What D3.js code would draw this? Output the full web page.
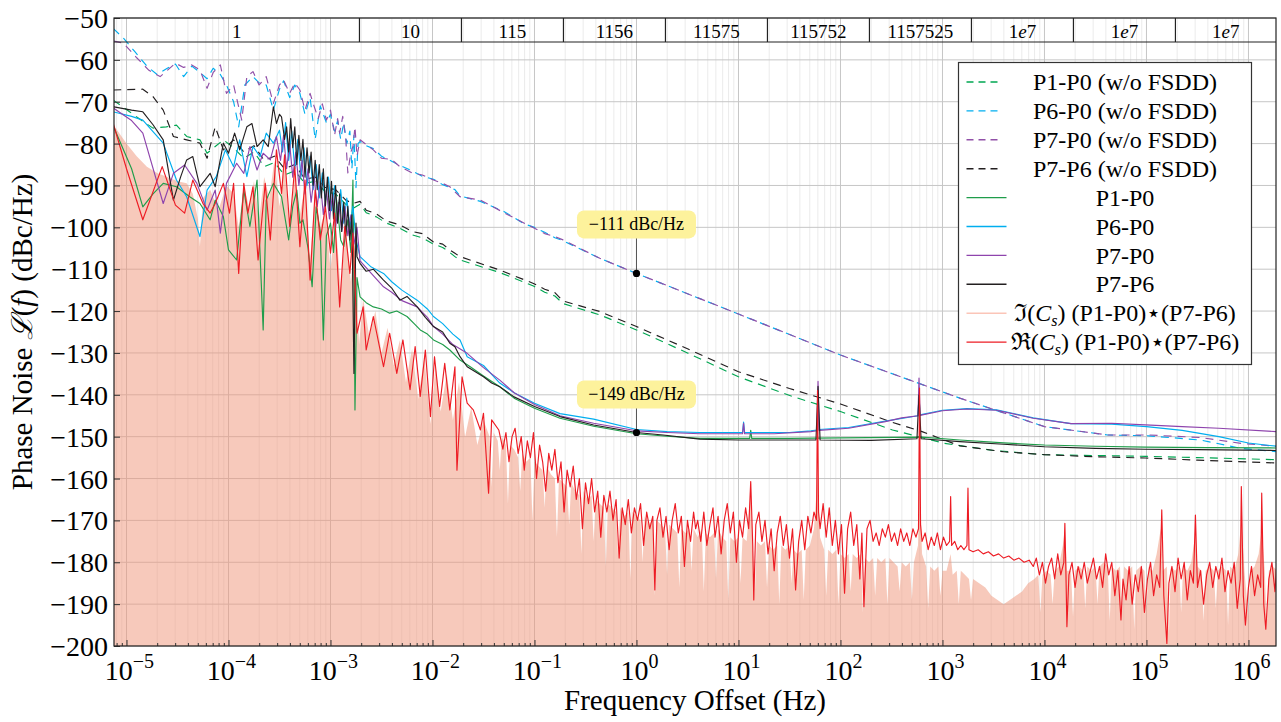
<!DOCTYPE html>
<html>
<head>
<meta charset="utf-8">
<script src="https://cdn.jsdelivr.net/npm/d3@7"></script>
<style>
  body { margin: 0; background: #fff; }
  svg { font-family: "Liberation Serif", "DejaVu Serif", serif; }
</style>
</head>
<body>
<script>
// points are [log10(frequency offset in Hz), phase noise in dBc/Hz]

var p1p0Nofsdd = [[-5.13,-69.6],[-4.97,-72.4],[-4.85,-74.5],[-4.74,-76.3],[-4.61,-76.0],[-4.51,-75.6],[-4.41,-78.3],[-4.28,-79.1],[-4.21,-82.3],[-4.13,-80.7],[-4.05,-79.1],[-3.95,-81],[-3.85,-83.5],[-3.75,-82],[-3.65,-85.5],[-3.55,-84.5],[-3.45,-87.5],[-3.35,-86.5],[-3.25,-89.5],[-3.15,-89],[-3.05,-91.5],[-2.95,-92],[-2.85,-94.5],[-2.78,-95.5],[-2.71,-94.5],[-2.65,-96.5],[-2.55,-97.5],[-2.45,-99],[-2.32,-100.2],[-2.2,-101.8],[-2.1,-102.5],[-1.99,-104],[-1.9,-104.8],[-1.83,-106],[-1.78,-107],[-1.73,-107.8],[-1.34,-110.8],[-1.01,-114],[-0.9,-115.5],[-0.8,-116.4],[-0.72,-118.2],[-0.36,-120.9],[0,-124.5],[0.5,-130],[1,-135.7],[1.53,-140.4],[2,-144.0],[2.51,-148.4],[3.02,-151.6],[3.5,-153.3],[4.0,-154.3],[4.99,-154.7],[5.5,-155],[6.28,-155.5]];

var p6p0Nofsdd = [[-5.13,-52.5],[-5.03,-54.8],[-4.92,-58],[-4.8,-61.5],[-4.7,-63.5],[-4.6,-62],[-4.52,-61],[-4.44,-64],[-4.36,-61.5],[-4.28,-63],[-4.21,-64.5],[-4.15,-62],[-4.08,-63.5],[-4.02,-66],[-3.95,-70],[-3.9,-76],[-3.84,-66],[-3.76,-64],[-3.7,-65.5],[-3.63,-66],[-3.56,-72],[-3.5,-67],[-3.46,-65],[-3.4,-69],[-3.35,-66],[-3.3,-68],[-3.25,-73],[-3.2,-69],[-3.15,-79],[-3.1,-71],[-3.04,-75],[-3.0,-73],[-2.96,-77],[-2.93,-74.5],[-2.9,-79],[-2.87,-75],[-2.84,-80],[-2.81,-77],[-2.79,-86],[-2.77,-78],[-2.75,-90.5],[-2.73,-80],[-2.71,-79.5],[-2.65,-80.5],[-2.58,-81.2],[-2.5,-83],[-2.4,-84.2],[-2.32,-85.2],[-2.2,-86.5],[-2.1,-87.8],[-1.99,-88.5],[-1.9,-89.8],[-1.83,-90.5],[-1.78,-91],[-1.73,-92.5],[-1.53,-93.8],[-1.3,-96.2],[-1.1,-99.2],[-1.0,-100],[-0.9,-101.2],[-0.8,-102.5],[-0.72,-103.2],[-0.36,-107.4],[0,-111],[1,-120.7],[2,-130.5],[3.17,-140.8],[4.0,-147.6],[4.62,-149.6],[5.02,-149.8],[5.53,-150.8],[5.93,-152.8],[6.28,-153.6]];

var p7p0Nofsdd = [[-5.13,-55.5],[-5.03,-56.0],[-4.9,-59.5],[-4.78,-62.5],[-4.67,-64.0],[-4.6,-62.5],[-4.52,-60.8],[-4.44,-61.8],[-4.36,-61.2],[-4.28,-62.4],[-4.21,-66.8],[-4.15,-63],[-4.08,-61.2],[-4.02,-68.0],[-3.95,-66],[-3.87,-74.4],[-3.82,-64.0],[-3.76,-62.8],[-3.7,-66],[-3.63,-64.0],[-3.56,-70.4],[-3.5,-66],[-3.46,-64.8],[-3.4,-68],[-3.35,-65.5],[-3.3,-67.2],[-3.25,-72],[-3.2,-68],[-3.17,-70.4],[-3.12,-74],[-3.08,-70.5],[-3.04,-74.4],[-3.0,-72],[-2.96,-78],[-2.93,-74],[-2.91,-77.5],[-2.88,-73.5],[-2.85,-79],[-2.83,-87],[-2.8,-82],[-2.78,-80.7],[-2.76,-76],[-2.74,-83],[-2.71,-79.1],[-2.65,-80.2],[-2.58,-81.5],[-2.5,-83.5],[-2.4,-83.8],[-2.32,-85.5],[-2.2,-87],[-2.1,-87.5],[-1.99,-88.7],[-1.9,-89.5],[-1.83,-90.3],[-1.78,-91.5],[-1.73,-92.7],[-1.53,-93.5],[-1.3,-96.5],[-1.1,-99],[-1.0,-100.2],[-0.9,-101.5],[-0.8,-102.2],[-0.72,-103.0],[-0.36,-107.4],[0,-111],[1,-120.7],[2,-130.5],[3.17,-140.8],[4.0,-147.6],[4.62,-149.6],[5.02,-149.6],[5.53,-150.2],[5.93,-151.6],[6.28,-152.3]];

var p7p6Nofsdd = [[-5.13,-67.2],[-4.84,-67.0],[-4.74,-68.8],[-4.64,-72.0],[-4.54,-78.3],[-4.41,-79.1],[-4.28,-79.9],[-4.21,-83.5],[-4.13,-76.0],[-4.05,-81.5],[-3.95,-79.1],[-3.85,-82],[-3.75,-80.5],[-3.65,-84],[-3.55,-83],[-3.45,-86],[-3.35,-85],[-3.25,-88.5],[-3.15,-88],[-3.05,-90.5],[-2.95,-91],[-2.85,-93.5],[-2.78,-94.3],[-2.71,-93.8],[-2.65,-95.9],[-2.55,-96.8],[-2.45,-98.5],[-2.32,-99.4],[-2.2,-101],[-2.1,-101.5],[-1.99,-103.5],[-1.9,-104],[-1.83,-105.4],[-1.78,-106.2],[-1.73,-107],[-1.34,-110.2],[-1.01,-113.4],[-0.9,-114.8],[-0.8,-115.6],[-0.72,-117.6],[-0.36,-120.1],[0,-123.7],[0.5,-129],[1,-134.5],[1.5,-138.5],[2,-142.2],[2.5,-146.5],[2.8,-148.8],[3.17,-152.2],[3.6,-153.6],[4.0,-154.3],[4.5,-154.8],[4.99,-155.1],[5.5,-155.6],[6.28,-156.3]];

var p1p0 = [[-5.13,-75.8],[-4.95,-86],[-4.84,-95.1],[-4.74,-92],[-4.64,-89.5],[-4.51,-90.3],[-4.38,-92.7],[-4.28,-94.3],[-4.18,-98.2],[-4.13,-93.5],[-4.05,-97.5],[-4.0,-105.4],[-3.92,-107.8],[-3.85,-91.1],[-3.79,-99.8],[-3.72,-88.7],[-3.66,-124.5],[-3.63,-93.5],[-3.56,-89.5],[-3.48,-92.7],[-3.41,-103],[-3.37,-95],[-3.33,-91.1],[-3.3,-99],[-3.27,-98.2],[-3.22,-105],[-3.18,-114.2],[-3.14,-95.1],[-3.1,-101],[-3.07,-126.9],[-3.04,-102],[-3.0,-99.0],[-2.97,-106],[-2.94,-93.5],[-2.9,-103],[-2.87,-104.6],[-2.83,-98.2],[-2.8,-106],[-2.78,-88.7],[-2.77,-110],[-2.76,-143.6],[-2.74,-112],[-2.71,-116.6],[-2.65,-118],[-2.58,-119],[-2.5,-119.5],[-2.42,-120.5],[-2.35,-120],[-2.25,-121.3],[-2.18,-123],[-2.12,-124.5],[-2.05,-125.5],[-1.99,-126.9],[-1.9,-128],[-1.83,-129.3],[-1.73,-131.7],[-1.63,-133.3],[-1.5,-135.5],[-1.34,-138.1],[-1.2,-140.8],[-1.0,-143.2],[-0.75,-145.6],[-0.42,-147.5],[0,-149.3],[0.3,-149.9],[0.62,-150.4],[1.0,-150.4],[1.11,-150.4],[1.12,-148.5],[1.13,-150.4],[1.5,-150.4],[2.0,-150.3],[2.8,-150.1],[3.17,-150.8],[3.6,-151.5],[4.0,-152],[4.5,-152.3],[4.99,-152.5],[5.6,-152.6],[6.28,-152.7]];

var p6p0 = [[-5.13,-72.4],[-4.95,-73.5],[-4.84,-74.4],[-4.64,-79.9],[-4.51,-88.7],[-4.41,-92.7],[-4.28,-102.2],[-4.21,-91.1],[-4.12,-87.9],[-4.03,-81.5],[-3.95,-85.5],[-3.89,-79.1],[-3.82,-87.9],[-3.76,-80.7],[-3.69,-83.1],[-3.63,-77.5],[-3.56,-79.9],[-3.5,-76.8],[-3.47,-82],[-3.44,-75],[-3.41,-84],[-3.38,-77],[-3.35,-86],[-3.32,-79],[-3.29,-88],[-3.26,-81],[-3.23,-90],[-3.2,-83],[-3.17,-91],[-3.14,-85],[-3.11,-93],[-3.08,-87],[-3.05,-94],[-3.02,-88],[-2.99,-96],[-2.96,-90],[-2.93,-97],[-2.9,-91],[-2.87,-99],[-2.84,-93],[-2.81,-100],[-2.78,-95],[-2.75,-103],[-2.71,-107],[-2.6,-109.5],[-2.48,-111],[-2.4,-113],[-2.3,-115],[-2.15,-117.4],[-2.05,-119.5],[-1.99,-121.3],[-1.9,-123],[-1.8,-125.5],[-1.73,-126.9],[-1.66,-130.9],[-1.5,-133],[-1.34,-137.2],[-1.2,-139.5],[-1.0,-142],[-0.75,-144.5],[-0.42,-145.8],[0,-148.3],[0.3,-148.8],[0.62,-149],[1.0,-149],[1.04,-149],[1.05,-146.5],[1.06,-149],[1.5,-149],[1.71,-148.6],[1.77,-148.4],[1.78,-141],[1.79,-148.3],[2.08,-147.8],[2.44,-146.3],[2.76,-145],[2.77,-140],[2.78,-144.8],[3.0,-143.7],[3.24,-143.3],[3.53,-143.6],[3.89,-145.5],[4.26,-146.9],[4.66,-147],[5.0,-147.6],[5.35,-148.5],[5.71,-150],[6.0,-151.5],[6.28,-152.3]];

var p7p0 = [[-5.13,-71.5],[-4.95,-74.5],[-4.84,-77.5],[-4.64,-94.3],[-4.54,-87.1],[-4.43,-85.1],[-4.31,-89.5],[-4.21,-95.9],[-4.13,-91.1],[-4.08,-101.4],[-4.02,-89.5],[-3.92,-84.7],[-3.85,-87.1],[-3.79,-80.7],[-3.72,-86.3],[-3.66,-82.3],[-3.59,-83.9],[-3.53,-78.3],[-3.49,-84],[-3.46,-78],[-3.43,-86],[-3.4,-80],[-3.37,-88],[-3.34,-82],[-3.31,-90],[-3.28,-84],[-3.25,-92],[-3.22,-86],[-3.19,-94],[-3.16,-88],[-3.13,-95],[-3.1,-89],[-3.07,-97],[-3.04,-91],[-3.01,-98],[-2.98,-92],[-2.95,-100],[-2.92,-94],[-2.89,-101],[-2.86,-95],[-2.83,-102],[-2.8,-97],[-2.77,-104],[-2.74,-100],[-2.71,-108],[-2.6,-111],[-2.48,-114.2],[-2.4,-115.5],[-2.3,-117.5],[-2.15,-119],[-2.05,-121.5],[-1.99,-123.7],[-1.9,-125.5],[-1.8,-128],[-1.66,-130.1],[-1.5,-133.5],[-1.34,-136.5],[-1.2,-139.5],[-1.0,-142.3],[-0.75,-145],[-0.42,-146.8],[0,-148.6],[0.3,-149],[0.62,-149.3],[1.0,-149.3],[1.04,-149.3],[1.05,-146.8],[1.06,-149.3],[1.35,-149.3],[1.71,-148.8],[1.77,-148.6],[1.78,-136.8],[1.79,-148.5],[2.08,-148],[2.44,-146.4],[2.6,-145.5],[2.76,-145],[2.77,-136],[2.78,-144.9],[3.0,-143.8],[3.24,-143.4],[3.53,-143.7],[3.89,-145.6],[4.26,-146.9],[4.66,-146.8],[4.99,-147.2],[5.35,-147.6],[5.71,-148],[6.28,-148.8]];

var p7p6 = [[-5.13,-71.2],[-4.95,-72],[-4.84,-72.4],[-4.74,-75.5],[-4.64,-79.1],[-4.54,-93.5],[-4.47,-88],[-4.41,-83.9],[-4.35,-83.1],[-4.28,-90.3],[-4.18,-87.1],[-4.13,-90.3],[-4.05,-79.9],[-4.0,-82.3],[-3.94,-77.5],[-3.89,-81.5],[-3.82,-76.0],[-3.77,-75.2],[-3.72,-80.7],[-3.66,-79.1],[-3.61,-80.7],[-3.56,-71.2],[-3.53,-75.2],[-3.5,-73],[-3.48,-73.6],[-3.45,-79],[-3.43,-76.0],[-3.41,-82],[-3.39,-74],[-3.37,-81],[-3.35,-76],[-3.33,-85],[-3.31,-78],[-3.29,-84],[-3.27,-79],[-3.25,-88],[-3.23,-81],[-3.21,-87],[-3.19,-82],[-3.17,-90],[-3.15,-84],[-3.13,-91],[-3.11,-85],[-3.09,-93],[-3.07,-86],[-3.05,-95],[-3.03,-88],[-3.01,-96],[-2.99,-89],[-2.97,-98],[-2.95,-90],[-2.93,-99],[-2.91,-92],[-2.89,-101],[-2.87,-94],[-2.85,-102],[-2.83,-95],[-2.81,-103],[-2.79,-97],[-2.77,-134.9],[-2.75,-99],[-2.74,-107],[-2.71,-108.6],[-2.65,-110.5],[-2.58,-110],[-2.48,-112.6],[-2.4,-114.5],[-2.32,-117.4],[-2.25,-116.5],[-2.15,-119],[-2.07,-121.5],[-1.99,-123.7],[-1.9,-125],[-1.83,-127.7],[-1.78,-128.5],[-1.73,-130.9],[-1.66,-133.3],[-1.58,-134.5],[-1.5,-135.7],[-1.42,-137.2],[-1.34,-138.1],[-1.2,-140.5],[-1.0,-142.8],[-0.75,-145.2],[-0.42,-147.2],[0,-149],[0.26,-149.6],[0.62,-150.6],[1.0,-150.8],[1.5,-150.8],[1.76,-150.8],[1.78,-138],[1.8,-150.8],[2.3,-150.9],[2.75,-150.5],[2.77,-140],[2.79,-150.5],[3.17,-151.2],[3.6,-151.8],[4.0,-152.4],[4.5,-152.8],[4.99,-153.0],[5.5,-153.1],[6.28,-153.3]];

var crossIm = [[-5.13,-75.5],[-5.0,-80],[-4.9,-83],[-4.8,-85.5],[-4.7,-87],[-4.6,-88],[-4.5,-89],[-4.41,-89.5],[-4.35,-92],[-4.3,-98],[-4.28,-104.6],[-4.25,-93],[-4.18,-91],[-4.1,-96],[-4.02,-90],[-3.95,-92],[-3.9,-100],[-3.85,-90],[-3.8,-95],[-3.75,-89],[-3.7,-98],[-3.65,-88],[-3.6,-93],[-3.55,-84],[-3.5,-95],[-3.45,-85],[-3.4,-101],[-3.35,-87],[-3.3,-97],[-3.25,-90],[-3.2,-108],[-3.15,-92],[-3.1,-100],[-3.05,-96],[-3.0,-110],[-2.95,-98],[-2.9,-115],[-2.85,-100],[-2.8,-113],[-2.76,-103],[-2.72,-128],[-2.68,-117],[-2.62,-126],[-2.56,-120],[-2.5,-130],[-2.44,-124],[-2.38,-133],[-2.32,-127],[-2.26,-137],[-2.2,-129],[-2.14,-141],[-2.08,-131],[-2.02,-147],[-1.97,-133],[-1.92,-144],[-1.86,-135],[-1.8,-146],[-1.74,-137],[-1.68,-150],[-1.62,-143],[-1.56,-152],[-1.5,-146],
  [-1.44,-150],[-1.42,-162],[-1.4,-149],[-1.36,-151],[-1.34,-158],[-1.32,-150],[-1.28,-152],[-1.26,-166],[-1.24,-152],[-1.2,-153],[-1.16,-155],[-1.14,-163],[-1.12,-154],[-1.08,-156],[-1.04,-155],[-1.02,-170],[-1.0,-156],[-0.96,-157],[-0.92,-158],[-0.9,-167],[-0.88,-157],[-0.84,-159],[-0.8,-160],[-0.78,-174],[-0.76,-160],[-0.72,-161],[-0.68,-162],[-0.66,-171],[-0.64,-161],[-0.6,-163],[-0.56,-164],[-0.54,-178],[-0.52,-163],[-0.48,-165],[-0.44,-164],[-0.42,-175],[-0.4,-165],[-0.36,-166],[-0.32,-167],[-0.3,-181],[-0.28,-166],[-0.24,-167],[-0.2,-168],[-0.18,-179],[-0.16,-167],[-0.12,-169],[-0.08,-168],[-0.06,-184],[-0.04,-168],[0,-169],[0.04,-170],[0.06,-180],[0.08,-169],[0.12,-171],[0.16,-170],[0.18,-188],[0.2,-170],[0.24,-171],[0.28,-172],[0.3,-183],[0.32,-171],[0.36,-172],[0.4,-173],[0.42,-186],[0.44,-172],[0.48,-173],[0.52,-172],[0.54,-182],[0.56,-172],[0.6,-174],[0.64,-172],[0.66,-187],[0.68,-173],[0.72,-174],[0.76,-173],[0.78,-184],[0.8,-172],[0.84,-174],[0.88,-175],[0.9,-189],[0.92,-174],[0.96,-175],[1.0,-174],[1.02,-185],[1.04,-174],[1.08,-175],[1.12,-163],[1.14,-176],[1.16,-188],[1.18,-175],[1.22,-176],[1.26,-175],[1.28,-186],[1.3,-176],[1.34,-177],[1.38,-176],[1.4,-190],[1.42,-176],[1.46,-177],[1.5,-176],[1.52,-185],[1.54,-177],[1.58,-178],[1.62,-177],[1.64,-189],[1.66,-177],[1.7,-176],[1.74,-172],[1.775,-160],[1.8,-174],[1.84,-177],[1.86,-188],[1.88,-177],[1.92,-178],[1.96,-177],[1.98,-190],[2.0,-178],[2.04,-179],[2.08,-178],[2.1,-187],[2.12,-178],[2.16,-179],[2.2,-178],[2.22,-192],[2.24,-179],[2.28,-180],[2.32,-179],[2.34,-188],[2.36,-179],[2.4,-180],[2.44,-179],[2.46,-190],[2.48,-179],[2.52,-180],[2.56,-181],[2.58,-187],[2.6,-180],[2.64,-181],[2.68,-180],[2.7,-189],[2.72,-180],[2.76,-176],[2.775,-160],[2.8,-178],[2.84,-181],[2.86,-191],[2.88,-181],[2.92,-182],[2.96,-181],[2.98,-188],[3.0,-182],[3.04,-182],[3.08,-178],[3.1,-183],[3.14,-182],[3.16,-190],[3.18,-182],[3.22,-183],[3.26,-184],[3.28,-189],[3.3,-184],[3.36,-185],[3.42,-186],[3.48,-188],[3.54,-189],[3.6,-190],[3.66,-189],[3.72,-188],[3.78,-187],[3.84,-185],[3.9,-184],[3.94,-183],[3.96,-192],[3.98,-183],[4.02,-182],[4.06,-183],[4.08,-190],[4.1,-182],[4.14,-181],[4.18,-176],[4.2,-172],[4.22,-182],[4.26,-182],[4.28,-193],[4.3,-182],[4.34,-181],[4.38,-182],[4.4,-191],[4.42,-181],[4.46,-182],[4.5,-181],[4.52,-190],[4.54,-181],[4.58,-180],[4.62,-181],[4.64,-194],[4.66,-181],[4.7,-182],[4.74,-181],[4.76,-192],[4.78,-181],[4.82,-182],[4.86,-181],[4.88,-196],[4.9,-182],[4.94,-181],[4.98,-182],[5.0,-191],[5.02,-181],[5.06,-182],[5.1,-178],[5.14,-172],[5.16,-182],[5.2,-181],[5.22,-197],[5.24,-181],[5.28,-182],[5.32,-181],[5.34,-192],[5.36,-181],[5.4,-182],[5.44,-180],[5.48,-173],[5.5,-181],[5.54,-182],[5.56,-194],[5.58,-182],[5.62,-181],[5.66,-182],[5.68,-191],[5.7,-182],[5.74,-181],[5.78,-182],[5.8,-195],[5.82,-181],[5.86,-182],[5.9,-178],[5.93,-170],[5.96,-182],[6.0,-193],[6.02,-182],[6.06,-181],[6.1,-178],[6.13,-172],[6.16,-182],[6.18,-195],[6.2,-182],[6.24,-181],[6.28,-182]];

var crossRe = [[-5.13,-75.2],[-5.0,-86],[-4.84,-98.2],[-4.65,-85.5],[-4.52,-94.7],[-4.43,-96.6],[-4.35,-88.7],[-4.25,-94.3],[-4.18,-96.6],[-4.13,-94.3],[-4.05,-89.5],[-3.99,-96.6],[-3.95,-89.5],[-3.9,-111],[-3.85,-89.5],[-3.81,-96.6],[-3.76,-90.3],[-3.71,-107.8],[-3.64,-89.5],[-3.59,-103.0],[-3.53,-81.5],[-3.48,-91.9],[-3.45,-82.7],[-3.4,-99.8],[-3.35,-85.5],[-3.3,-104.6],[-3.25,-88.7],[-3.2,-112.6],[-3.15,-91.1],[-3.1,-103],[-3.05,-95.1],[-3.0,-106.2],[-2.96,-96.6],[-2.91,-119.0],[-2.86,-99.8],[-2.81,-111],[-2.78,-101.4],[-2.74,-125.3],[-2.68,-119],[-2.65,-129.3],[-2.58,-121.3],[-2.48,-133.3],[-2.42,-125.3],[-2.35,-134.9],[-2.29,-126.9],[-2.22,-138.8],[-2.17,-128.5],[-2.12,-140.4],[-2.07,-129.3],[-2.02,-145.2],[-1.98,-130.9],[-1.93,-142.8],[-1.88,-132.5],[-1.83,-143.6],[-1.78,-133.3],[-1.76,-158.0],[-1.71,-135.7],[-1.66,-142.0],[-1.6,-143.6],[-1.53,-148.4],[-1.5,-144.4],[-1.45,-163.5],[-1.42,-146.0],
  [-1.35,-148.4],[-1.31,-153],[-1.28,-149],[-1.25,-156],[-1.22,-150],[-1.19,-148],[-1.16,-154],[-1.13,-150],[-1.1,-158],[-1.07,-151],[-1.04,-155],[-1.01,-149],[-0.98,-160],[-0.95,-152],[-0.92,-156],[-0.89,-163],[-0.86,-154],[-0.83,-158],[-0.8,-153],[-0.77,-161],[-0.74,-156],[-0.71,-168],[-0.68,-158],[-0.65,-162],[-0.62,-157],[-0.59,-165],[-0.56,-160],[-0.53,-172],[-0.5,-161],[-0.47,-166],[-0.44,-160],[-0.41,-168],[-0.38,-163],[-0.35,-174],[-0.32,-164],[-0.29,-168],[-0.26,-163],[-0.23,-170],[-0.2,-165],[-0.17,-179],[-0.14,-167],[-0.11,-171],[-0.08,-165],[-0.05,-173],[-0.02,-167],[0.01,-170],[0.04,-166],[0.07,-176],[0.1,-168],[0.13,-172],[0.16,-169],[0.18,-186.6],[0.2,-170],[0.23,-167],[0.26,-174],[0.29,-169],[0.32,-177],[0.35,-170],[0.38,-166],[0.41,-173],[0.44,-169],[0.47,-181],[0.5,-170],[0.53,-175],[0.56,-168],[0.58,-172],
  [0.6,-170],[0.63,-175],[0.66,-168],[0.69,-176],[0.72,-171],[0.75,-167],[0.77,-174],[0.8,-169],[0.83,-178],[0.86,-170],[0.89,-166],[0.92,-173],[0.95,-168],[0.98,-180],[1.01,-170],[1.04,-174],[1.07,-167],[1.1,-172],[1.12,-160.7],[1.14,-176],[1.15,-189],[1.17,-171],[1.2,-168],[1.23,-175],[1.26,-170],[1.29,-178],[1.32,-172],[1.35,-182],[1.38,-173],[1.41,-169],[1.44,-176],[1.47,-171],[1.5,-179],[1.53,-172],[1.56,-186.6],[1.59,-175],[1.62,-170],[1.65,-177],[1.68,-169],[1.71,-173],[1.74,-168],[1.765,-170],[1.775,-139],[1.785,-168],[1.8,-172],[1.83,-166],[1.86,-174],[1.89,-167],[1.92,-176],[1.95,-170],[1.98,-178],[2.01,-171],[2.04,-187.4],[2.07,-172],[2.1,-168],[2.13,-176],[2.16,-171],[2.19,-184],[2.21,-173],[2.23,-190.6],[2.26,-172],[2.29,-170],[2.32,-175],[2.35,-173],[2.38,-176],[2.41,-172],[2.44,-174],[2.47,-171],[2.5,-175],[2.53,-173],[2.56,-176],[2.59,-172],[2.62,-175],[2.65,-173],[2.68,-176],[2.71,-172],[2.74,-174],[2.765,-172],[2.775,-138.4],[2.785,-171],[2.8,-175],[2.83,-173],[2.86,-177],[2.89,-174],[2.92,-176],[2.95,-173],[2.98,-177],[3.01,-174],[3.04,-176],[3.07,-175],[3.08,-164.3],[3.09,-176],[3.12,-175],[3.15,-177],[3.18,-176],[3.21,-177],[3.24,-176],[3.25,-162.3],[3.26,-177],[3.3,-177.5],[3.35,-177],[3.4,-178],[3.45,-177.5],[3.5,-178.5],[3.55,-178],[3.6,-179],[3.65,-178.5],[3.7,-179.5],[3.75,-179],[3.8,-180],[3.85,-179.5],[3.89,-181],[3.92,-179],[3.95,-183],[3.98,-180],[4.01,-185],[4.04,-181],[4.07,-179],[4.1,-184],[4.13,-178],[4.16,-183],[4.19,-180],[4.2,-170.7],[4.21,-182],[4.22,-195.4],[4.24,-183],[4.27,-180],[4.3,-186],[4.33,-181],[4.36,-184],[4.39,-180],[4.42,-185],[4.45,-182],[4.48,-179],[4.51,-184],[4.54,-181],[4.57,-186],[4.6,-178],[4.63,-183],[4.66,-180],[4.69,-188],[4.72,-182],[4.75,-193.8],[4.77,-184],[4.8,-189],[4.83,-181],[4.86,-190],[4.89,-183],[4.92,-187],[4.95,-181],[4.98,-192],[5.01,-184],[5.04,-180],[5.07,-188],[5.1,-183],[5.13,-186],[5.15,-167.5],[5.17,-188],[5.2,-199.4],[5.22,-185],[5.25,-181],[5.28,-187],[5.31,-179],[5.34,-184],[5.37,-180],[5.4,-189],[5.43,-182],[5.46,-185],[5.48,-168.7],[5.5,-186],[5.53,-182],[5.56,-190],[5.59,-183],[5.62,-180],[5.65,-186],[5.68,-181],[5.71,-184],[5.74,-179],[5.77,-187],[5.8,-182],[5.83,-185],[5.86,-180],[5.89,-191],[5.92,-184],[5.93,-161.9],[5.95,-188],[5.97,-195],[6.0,-186],[6.03,-181],[6.06,-188],[6.09,-183],[6.12,-186],[6.13,-163.5],[6.15,-190],[6.17,-196],[6.2,-184],[6.23,-180],[6.26,-187],[6.28,-179.4]];

var yTicks = [-200,-190,-180,-170,-160,-150,-140,-130,-120,-110,-100,-90,-80,-70,-60,-50];
var xDecades = [-5,-4,-3,-2,-1,0,1,2,3,4,5,6];

// secondary scale across the top: cell edges (log10 Hz) and cell labels
var topEdges = [-2.716,-1.716,-0.716,0.284,1.284,2.284,3.284,4.284,5.284];
var topLabels = ["1","10","115","1156","11575","115752","1157525","1e7","1e7","1e7"];

var pins = [{f: 0, db: -111, text: "\u2212111 dBc/Hz"}, {f: 0, db: -149, text: "\u2212149 dBc/Hz"}];


var margin = {top: 18, right: 5, bottom: 76, left: 114},
    width = 1281 - margin.left - margin.right,
    height = 722 - margin.top - margin.bottom;

var hz = function(e) { return Math.pow(10, e); };

var x = d3.scaleLog()
    .domain([hz(-5.1225), hz(6.27)])
    .range([0, width]);

var y = d3.scaleLinear()
    .domain([-200, -50])
    .range([height, 0]);

var svg = d3.select("body").append("svg")
    .attr("width", 1281)
    .attr("height", 722);

var g = svg.append("g")
    .attr("transform", "translate(" + margin.left + "," + margin.top + ")");

svg.append("defs").append("clipPath").attr("id", "plotclip")
  .append("rect").attr("width", width).attr("height", height);

/* GRID */
var minors = [];
xDecades.concat([-6]).forEach(function(k) {
    for (var m = 2; m <= 9; m++) {
        var v = m * hz(k);
        if (v > x.domain()[0] && v < x.domain()[1]) minors.push(v);
    }
});
var grid = g.append("g").attr("class", "grid");
grid.selectAll("line.minor").data(minors).enter().append("line")
    .attr("x1", function(d) { return x(d); }).attr("x2", function(d) { return x(d); })
    .attr("y1", 0).attr("y2", height)
    .style("stroke", "#ebebeb").style("stroke-width", 1);
grid.selectAll("line.majx").data(xDecades).enter().append("line")
    .attr("x1", function(d) { return x(hz(d)); }).attr("x2", function(d) { return x(hz(d)); })
    .attr("y1", 0).attr("y2", height)
    .style("stroke", "#c6c6c6").style("stroke-width", 1);
grid.selectAll("line.majy").data(yTicks).enter().append("line")
    .attr("x1", 0).attr("x2", width)
    .attr("y1", function(d) { return y(d); }).attr("y2", function(d) { return y(d); })
    .style("stroke", "#c6c6c6").style("stroke-width", 1);

/* DATA */
var plot = g.append("g").attr("clip-path", "url(#plotclip)");

var line = d3.line()
    .x(function(d) { return x(hz(d[0])); })
    .y(function(d) { return y(d[1]); });

var area = d3.area()
    .x(function(d) { return x(hz(d[0])); })
    .y0(height)
    .y1(function(d) { return y(d[1]); });

plot.append("path").datum(crossIm)
    .attr("d", area)
    .style("fill", "#ef9377").style("fill-opacity", 0.5).style("stroke", "none");

var series = [
    {data: p1p0Nofsdd, color: "#00a651", dash: "8,6", label: "P1-P0 (w/o FSDD)"},
    {data: p6p0Nofsdd, color: "#00aeef", dash: "8,6", label: "P6-P0 (w/o FSDD)"},
    {data: p7p0Nofsdd, color: "#9150a8", dash: "8,6", label: "P7-P0 (w/o FSDD)"},
    {data: p7p6Nofsdd, color: "#231f20", dash: "8,6", label: "P7-P6 (w/o FSDD)"},
    {data: p1p0, color: "#1f9d4a", dash: null, label: "P1-P0"},
    {data: p6p0, color: "#00aeef", dash: null, label: "P6-P0"},
    {data: p7p0, color: "#8e44ad", dash: null, label: "P7-P0"},
    {data: p7p6, color: "#231f20", dash: null, label: "P7-P6"},
    {data: crossRe, color: "#ed1c24", dash: null, label: "re"}
];

plot.selectAll("path.series").data(series).enter().append("path")
    .attr("class", "series")
    .attr("d", function(d) { return line(d.data); })
    .style("fill", "none")
    .style("stroke", function(d) { return d.color; })
    .style("stroke-width", 1.15)
    .style("stroke-linejoin", "round")
    .style("stroke-dasharray", function(d) { return d.dash; });

/* AXES */
var yAxis = d3.axisLeft(y).tickValues(yTicks).tickSize(-6).tickPadding(6);
var ya = g.append("g").call(yAxis);
ya.select(".domain").remove();
ya.selectAll("text").style("font-size", "28px").style("font-family", "Liberation Serif, serif").attr("dy", "0.34em");
ya.selectAll("line").style("stroke", "#333");

var xa = g.append("g").attr("transform", "translate(0," + height + ")")
    .call(d3.axisBottom(x).tickValues(xDecades.map(hz)).tickSize(-6).tickFormat(""));
xa.select(".domain").remove();
xa.selectAll("line").style("stroke", "#333");
var xm = g.append("g").attr("transform", "translate(0," + height + ")")
    .call(d3.axisBottom(x).tickValues(minors).tickSize(-3).tickFormat(""));
xm.select(".domain").remove();
xm.selectAll("line").style("stroke", "#333");

var xl = g.append("g").selectAll("text").data(xDecades).enter().append("text")
    .attr("x", function(d) { return x(hz(d)) + 3; })
    .attr("y", height + 34)
    .attr("text-anchor", "middle")
    .style("font-size", "28px");
xl.append("tspan").text("10");
xl.append("tspan").attr("dy", -12).style("font-size", "20px")
    .text(function(d) { return d3.format("d")(d); });

// frame
g.append("rect").attr("width", width).attr("height", height)
    .style("fill", "none").style("stroke", "#222").style("stroke-width", 1.2);

// top strip
var strip = g.append("g");
strip.append("line").attr("x1", 0).attr("x2", width).attr("y1", 24).attr("y2", 24)
    .style("stroke", "#222").style("stroke-width", 1.2);
strip.selectAll("line.sep").data(topEdges).enter().append("line")
    .attr("x1", function(d) { return x(hz(d)); }).attr("x2", function(d) { return x(hz(d)); })
    .attr("y1", 0).attr("y2", 24)
    .style("stroke", "#222").style("stroke-width", 1.2);
var cellEdges = [0].concat(topEdges.map(function(d) { return x(hz(d)); })).concat([width]);
strip.selectAll("text").data(topLabels).enter().append("text")
    .attr("x", function(d, i) { return (cellEdges[i] + cellEdges[i + 1]) / 2; })
    .attr("y", 20)
    .attr("text-anchor", "middle")
    .style("font-size", "19px")
    .each(function(d) {
        var t = d3.select(this);
        if (d.indexOf("e") > 0) {
            t.append("tspan").text("1");
            t.append("tspan").style("font-style", "italic").text("e");
            t.append("tspan").text("7");
        } else t.text(d);
    });

// axis titles
g.append("text")
    .attr("x", width / 2).attr("y", height + 64)
    .attr("text-anchor", "middle")
    .style("font-size", "29px")
    .text("Frequency Offset (Hz)");

var yt = g.append("text")
    .attr("transform", "translate(" + (32 - margin.left) + "," + (height / 2) + ") rotate(-90)")
    .attr("text-anchor", "middle")
    .style("font-size", "29px");
yt.append("tspan").text("Phase Noise ");
yt.append("tspan").style("font-style", "italic").text("\u2112");
yt.append("tspan").text("(");
yt.append("tspan").style("font-style", "italic").text("f");
yt.append("tspan").text(") (dBc/Hz)");

/* PINS */
var pinOffset = [49, 38];
var pg = g.append("g").selectAll("g").data(pins).enter().append("g");
pg.append("line")
    .attr("x1", function(d) { return x(hz(d.f)); }).attr("x2", function(d) { return x(hz(d.f)); })
    .attr("y1", function(d) { return y(d.db); })
    .attr("y2", function(d, i) { return y(d.db) - pinOffset[i]; })
    .style("stroke", "#555").style("stroke-width", 1);
pg.append("circle")
    .attr("cx", function(d) { return x(hz(d.f)); })
    .attr("cy", function(d) { return y(d.db); })
    .attr("r", 3.6).style("fill", "#000");
pg.append("rect")
    .attr("x", function(d) { return x(hz(d.f)) - 59.5; })
    .attr("y", function(d, i) { return y(d.db) - pinOffset[i] - 14; })
    .attr("width", 119).attr("height", 28).attr("rx", 7)
    .style("fill", "#fdf29c");
pg.append("text")
    .attr("x", function(d) { return x(hz(d.f)); })
    .attr("y", function(d, i) { return y(d.db) - pinOffset[i] + 6; })
    .attr("text-anchor", "middle")
    .style("font-size", "18px")
    .text(function(d) { return d.text; });

/* LEGEND */
var lg = g.append("g").attr("transform", "translate(" + (958.5 - margin.left) + "," + (62.5 - margin.top) + ")");
lg.append("rect").attr("width", 293).attr("height", 302)
    .style("fill", "#fff").style("stroke", "#333").style("stroke-width", 1.2);

var legendItems = series.slice(0, 8).concat([
    {color: "#fbc5b8", dash: null, label: "im"},
    {color: "#ed1c24", dash: null, label: "re"}
]);
var li = lg.selectAll("g.item").data(legendItems).enter().append("g")
    .attr("transform", function(d, i) { return "translate(0," + (19.5 + i * 28.9) + ")"; });
li.append("line")
    .attr("x1", 8).attr("x2", function(d) { return d.dash ? 43 : 48; })
    .attr("y1", 0).attr("y2", 0)
    .style("stroke", function(d) { return d.color; })
    .style("stroke-width", 1.4)
    .style("stroke-dasharray", function(d) { return d.dash ? "7,5" : null; });
li.append("text")
    .attr("x", 166.5).attr("y", 0).attr("dy", "0.34em")
    .attr("text-anchor", "middle")
    .style("font-size", "24px")
    .each(function(d) {
        var t = d3.select(this);
        if (d.label === "im" || d.label === "re") {
            t.append("tspan").text(d.label === "im" ? "\u2111(" : "\u211C(");
            t.append("tspan").style("font-style", "italic").text("C");
            t.append("tspan").attr("dy", 5).style("font-size", "16px").style("font-style", "italic").text("s");
            t.append("tspan").attr("dy", -5).text(")  (P1-P0)\u22C6(P7-P6)");
        } else t.text(d.label);
    });
</script>
</body>
</html>
